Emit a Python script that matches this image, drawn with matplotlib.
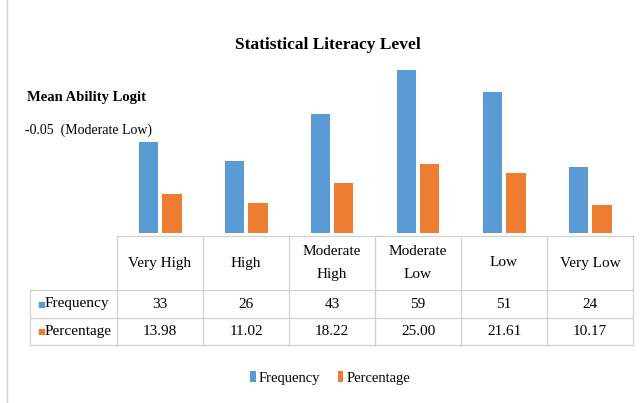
import matplotlib
matplotlib.use("Agg")
import matplotlib.pyplot as plt
from matplotlib.transforms import blended_transform_factory
from matplotlib.lines import Line2D
from matplotlib.patches import Patch
import numpy as np

categories = ["Very High", "High", "Moderate\nHigh", "Moderate\nLow", "Low", "Very Low"]
frequency = [33, 26, 43, 59, 51, 24]
percentage = [13.98, 11.02, 18.22, 25.00, 21.61, 10.17]
freq_labels = ["33", "26", "43", "59", "51", "24"]
pct_labels = ["13.98", "11.02", "18.22", "25.00", "21.61", "10.17"]
series_names = ["Frequency", "Percentage"]

BLUE = "#5B9BD5"
ORANGE = "#ED7D31"
GRID = "#D0D0D0"
FONT = "Liberation Serif"

W, H = 640, 403
fig = plt.figure(figsize=(W / 100, H / 100), dpi=100)
plt.rcParams["font.family"] = FONT

def fx(px):
    return px / W

def fy(py):
    return 1 - py / H

ax = fig.add_axes([fx(117), fy(233), fx(633) - fx(117), fy(40) - fy(233)])
x = np.arange(len(categories))
bw = 0.23
ax.bar(x - 0.135, frequency, width=bw, color=BLUE)
ax.bar(x + 0.135, percentage, width=bw, color=ORANGE)
ax.set_xlim(-0.5, len(categories) - 0.5)
ax.set_ylim(0, 70)
ax.axis("off")

tr = blended_transform_factory(ax.transData, fig.transFigure)
y_top, y_h, y_f, y_bot = fy(236), fy(290), fy(318), fy(345)
x_left = -1.51
x_right = len(categories) - 0.5

def hline(y, x0, x1):
    fig.add_artist(Line2D([x0, x1], [y, y], transform=tr, color=GRID, lw=0.9))

def vline(xv, y0, y1):
    fig.add_artist(Line2D([xv, xv], [y0, y1], transform=tr, color=GRID, lw=0.9))

hline(y_top, -0.5, x_right)
for yy in (y_h, y_f, y_bot):
    hline(yy, x_left, x_right)
for b in np.arange(-0.5, len(categories), 1.0):
    vline(b, y_top, y_bot)
vline(x_left, y_h, y_bot)

fs = 11
line_gap = 23 / H
for i, c in enumerate(categories):
    parts = c.split("\n")
    n = len(parts)
    yc = (y_top + y_h) / 2
    for k, p in enumerate(parts):
        yy = yc + ((n - 1) / 2 - k) * line_gap
        fig.text(i, yy, p, transform=tr, ha="center", va="center", fontsize=fs)
    fig.text(i, (y_h + y_f) / 2, freq_labels[i], transform=tr, ha="center", va="center", fontsize=fs)
    fig.text(i, (y_f + y_bot) / 2, pct_labels[i], transform=tr, ha="center", va="center", fontsize=fs)

for name, col, (ya, yb) in zip(series_names, [BLUE, ORANGE], [(y_h, y_f), (y_f, y_bot)]):
    fig.text(x_left + 0.08, (ya + yb) / 2, "■", transform=tr, ha="left", va="center",
             fontsize=6, color=col, family="DejaVu Sans")
    fig.text(x_left + 0.17, (ya + yb) / 2, name, transform=tr, ha="left", va="center", fontsize=fs)

fig.text(fx(328), fy(45), "Statistical Literacy Level", ha="center", va="center",
         fontsize=12.5, fontweight="bold")
fig.text(fx(27), fy(97), "Mean Ability Logit", ha="left", va="center",
         fontsize=10.5, fontweight="bold")
fig.text(fx(25), fy(130), "-0.05  (Moderate Low)", ha="left", va="center", fontsize=10)

handles = [Patch(facecolor=BLUE), Patch(facecolor=ORANGE)]
fig.legend(handles, series_names, loc="center", bbox_to_anchor=(fx(330), fy(378)),
           ncol=2, frameon=False, fontsize=10.5, handlelength=0.4, handleheight=0.8,
           handletextpad=0.2, columnspacing=1.2)

fig.add_artist(Line2D([fx(7), fx(7)], [0, 1], transform=fig.transFigure, color=GRID, lw=1))

fig.savefig("out.png", dpi=100)
